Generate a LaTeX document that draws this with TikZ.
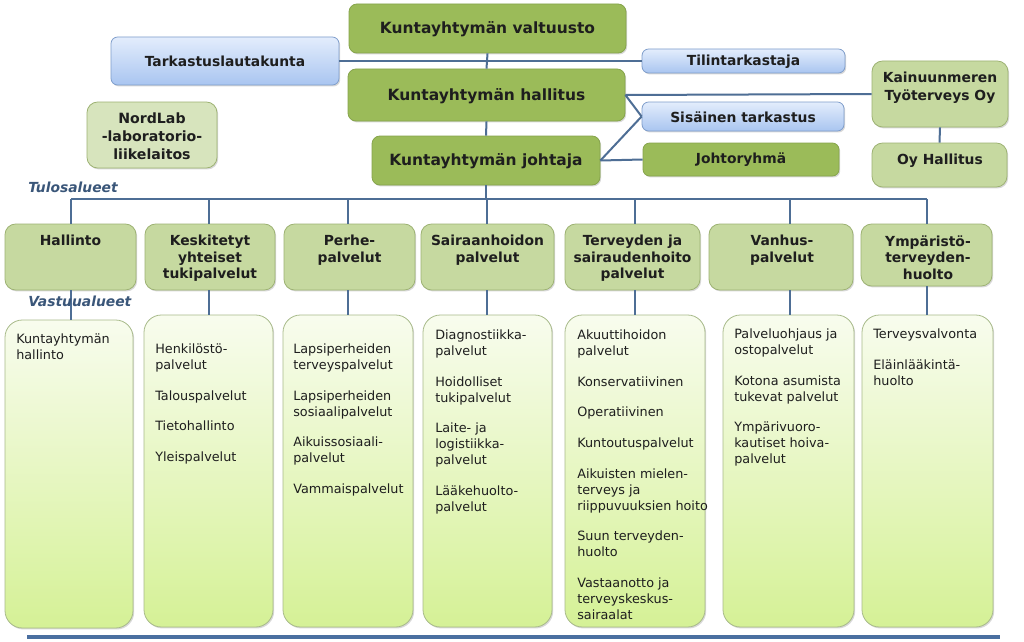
\documentclass[tikz,border=0pt]{standalone}
\usepackage{fontspec}
\setmainfont{DejaVu Sans}
\usetikzlibrary{fit,shadows}
\definecolor{lnc}{HTML}{4E6E95}
\definecolor{dkg}{HTML}{9BBB59}
\definecolor{dkgb}{HTML}{86A44C}
\definecolor{ltg}{HTML}{C6D9A0}
\definecolor{ltgb}{HTML}{9DB273}
\definecolor{nlg}{HTML}{D7E4BD}
\definecolor{blt}{HTML}{E3EDFC}
\definecolor{blb}{HTML}{A9C5F0}
\definecolor{blbd}{HTML}{7E9DCB}
\definecolor{vtop}{HTML}{F8FCEE}
\definecolor{vbot}{HTML}{D5F196}
\definecolor{vbd}{HTML}{A8BA8A}
\definecolor{lbl}{HTML}{3A5679}
\definecolor{txt}{HTML}{1E1E1E}
\definecolor{rule}{HTML}{4A6FA0}
\tikzset{
  shd/.style={drop shadow={shadow xshift=0.9pt, shadow yshift=-1.1pt, opacity=0.3}},
  base/.style={inner sep=0pt, shd, line width=0.6pt},
  lvone/.style={base, fill=dkg, draw=dkgb, rounded corners=6pt},
  bluebox/.style={base, top color=blt, bottom color=blb, draw=blbd, rounded corners=5pt},
  grnside/.style={base, fill=dkg, draw=dkgb, rounded corners=5pt},
  ltbox/.style={base, fill=ltg, draw=ltgb, rounded corners=8pt},
  vbx/.style={base, top color=vtop, bottom color=vbot, draw=vbd, rounded corners=13pt},
  bigtxt/.style={inner sep=0pt, align=center, text=txt, font=\fontsize{11.6}{14}\selectfont\bfseries},
  sidetxt/.style={inner sep=0pt, align=center, text=txt, font=\fontsize{10.4}{13.5}\selectfont\bfseries},
  hd/.style={inner sep=0pt, align=center, anchor=north, text=txt, font=\fontsize{10.4}{12.4}\selectfont\bfseries},
  lst/.style={inner sep=0pt, align=left, anchor=north west, text=txt, font=\fontsize{9.6}{12}\selectfont},
  conn/.style={draw=lnc, line width=1.5pt},
  area/.style={text=lbl, anchor=west, font=\fontsize{10.4}{12}\selectfont\bfseries\itshape, inner sep=0pt}
}
\begin{document}
\begin{tikzpicture}[x=0.75pt,y=-0.75pt]
\useasboundingbox[fill=white] (0,0) rectangle (1024,642);

% top level boxes
\node[lvone, fit={(349,4) (626,53)}] (valt) {};
\node[lvone, fit={(348,69) (625,121)}] (hall) {};
\node[lvone, fit={(372,136) (600,185)}] (joht) {};
\node[bluebox, fit={(111,37) (339,85)}] (tark) {};
\node[bluebox, fit={(642,49) (845,73)}] (tilin) {};
\node[bluebox, fit={(642,102) (844,131)}] (sis) {};
\node[grnside, fit={(643,143) (839,176)}] (jryh) {};
\node[base, fill=nlg, draw=ltgb, rounded corners=8pt, fit={(87,102) (217,168)}] (nord) {};
\node[ltbox, fit={(872,61) (1008,127)}] (kain) {};
\node[ltbox, fit={(872,143) (1007,187)}] (oyh) {};

% top texts
\node[bigtxt] (valtt) at (487.5,29) {Kuntayhtymän valtuusto};
\node[bigtxt] (hallt) at (486.5,96) {Kuntayhtymän hallitus};
\node[bigtxt] (johtt) at (486,161) {Kuntayhtymän johtaja};
\node[sidetxt] (tarkt) at (225,61.5) {Tarkastuslautakunta};
\node[sidetxt] (tilint) at (743.5,62) {Tilintarkastaja};
\node[sidetxt] (sist) at (743,117.5) {Sisäinen tarkastus};
\node[sidetxt] (jryht) at (741,160) {Johtoryhmä};
\node[sidetxt, font=\fontsize{10.6}{13.6}\selectfont\bfseries] (nordt) at (152,136) {NordLab\\-laboratorio-\\liikelaitos};
\node[sidetxt] (kaint) at (940,88) {Kainuunmeren\\Työterveys Oy};
\node[sidetxt] (oyht) at (940,161) {Oy Hallitus};

% top connectors
\draw[conn] (valt.south) -- (hall.north);
\draw[conn] (hall.south) -- (joht.north);
\draw[conn] (tark.east) -- (tilin.west);
\draw[conn] (hall.east) -- (kain.west);
\draw[conn] (hall.east) -- (sis.west);
\draw[conn] (joht.east) -- (sis.west);
\draw[conn] (joht.east) -- (jryh.west);
\draw[conn] (kain.south) -- (oyh.north);

% labels
\node[area] (tulos) at (28,187) {Tulosalueet};

% level 2 boxes
\node[ltbox, fit={(5,224) (136,290)}] (h1) {};
\node[ltbox, fit={(145,224) (275,290)}] (h2) {};
\node[ltbox, fit={(284,224) (415,290)}] (h3) {};
\node[ltbox, fit={(421,224) (554,290)}] (h4) {};
\node[ltbox, fit={(565,224) (700,290)}] (h5) {};
\node[ltbox, fit={(709,224) (853,290)}] (h6) {};
\node[ltbox, fit={(861,224) (992,286)}] (h7) {};
\node[hd] (n1) at (70.5,235) {Hallinto};
\node[hd] (n2) at (210,235) {Keskitetyt\\yhteiset\\tukipalvelut};
\node[hd] (n3) at (349.5,235) {Perhe-\\palvelut};
\node[hd] (n4) at (487.5,235) {Sairaanhoidon\\palvelut};
\node[hd] (n5) at (632.5,235) {Terveyden ja\\sairaudenhoito\\palvelut};
\node[hd] (n6) at (782,235) {Vanhus-\\palvelut};
\node[hd] (n7) at (928,235) {Ympäristö-\\terveyden-\\huolto};

% level 3 boxes
\node[vbx, fit={(5,320) (133,628)}] (v1) {};
\node[vbx, fit={(144,315) (273,627)}] (v2) {};
\node[vbx, fit={(283,315) (413,627)}] (v3) {};
\node[vbx, fit={(423,315) (552,627)}] (v4) {};
\node[vbx, fit={(565,315) (705,627)}] (v5) {};
\node[vbx, fit={(723,315) (854,627)}] (v6) {};
\node[vbx, fit={(862,315) (993,627)}] (v7) {};

% bus
\coordinate (b1) at (71,199);
\coordinate (b2) at (209,199);
\coordinate (b3) at (348,199);
\coordinate (b4) at (487,199);
\coordinate (b5) at (635,199);
\coordinate (b6) at (790,199);
\coordinate (b7) at (927,199);
\draw[conn] (b1) -- (b7);
\draw[conn] (joht.south) -- (joht.south |- b4);
\foreach \i in {1,...,7}{
  \draw[conn] (b\i) -- (b\i |- h\i.north);
  \draw[conn] (h\i.south -| b\i) -- (v\i.north -| b\i);
}
\node[area] (vast) at (28,301) {Vastuualueet};

% level 3 texts
\node[lst] (t1) at (16,334) {Kuntayhtymän\\hallinto};
\node[lst] (t2) at (155,343.5) {Henkilöstö-\\palvelut\\[11pt]Talouspalvelut\\[11pt]Tietohallinto\\[11pt]Yleispalvelut};
\node[lst] (t3) at (293,343.5) {Lapsiperheiden\\terveyspalvelut\\[11pt]Lapsiperheiden\\sosiaalipalvelut\\[11pt]Aikuissosiaali-\\palvelut\\[11pt]Vammaispalvelut};
\node[lst] (t4) at (435,329.5) {Diagnostiikka-\\palvelut\\[11pt]Hoidolliset\\tukipalvelut\\[11pt]Laite- ja\\logistiikka-\\palvelut\\[11pt]Lääkehuolto-\\palvelut};
\node[lst] (t5) at (577,329.5) {Akuuttihoidon\\palvelut\\[11pt]Konservatiivinen\\[11pt]Operatiivinen\\[11pt]Kuntoutuspalvelut\\[11pt]Aikuisten mielen-\\terveys ja\\riippuvuuksien hoito\\[11pt]Suun terveyden-\\huolto\\[11pt]Vastaanotto ja\\terveyskeskus-\\sairaalat};
\node[lst] (t6) at (734,328.5) {Palveluohjaus ja\\ostopalvelut\\[11pt]Kotona asumista\\tukevat palvelut\\[11pt]Ympärivuoro-\\kautiset hoiva-\\palvelut};
\node[lst] (t7) at (873,328.5) {Terveysvalvonta\\[11pt]Eläinlääkintä-\\huolto};

% bottom rule
\coordinate (r1) at (27,637);
\coordinate (r2) at (1000,637);
\draw[draw=rule, line width=2.4pt] (r1) -- (r2);
\end{tikzpicture}
\end{document}
